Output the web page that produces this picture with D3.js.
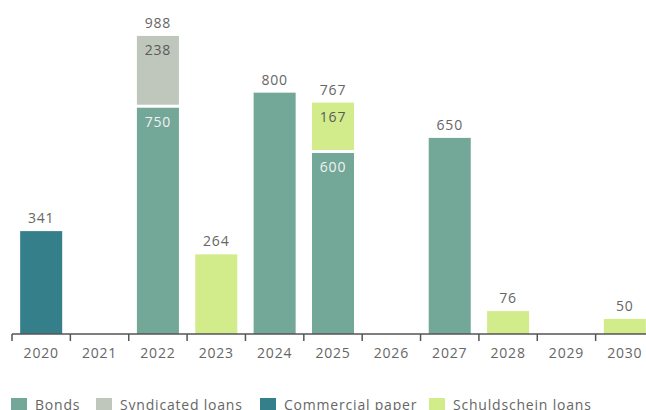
<!DOCTYPE html>
<html><head><meta charset="utf-8">
<script src="https://cdn.jsdelivr.net/npm/d3@7"></script>
<style>
html,body{margin:0;padding:0;background:#fff;overflow:hidden}
text{font-family:"Open Sans",sans-serif;}
</style></head>
<body><svg id="c" width="646" height="410"></svg>
<script>
const years = ["2020","2021","2022","2023","2024","2025","2026","2027","2028","2029","2030"];
const seriesNames = ["Bonds","Syndicated loans","Commercial paper","Schuldschein loans"];
const seriesColors = ["#73a797","#bfc6bc","#347f8a","#d2ec8c"];
const bonds       = [0,0,750,0,800,600,0,650,0,0,0];
const syndicated  = [0,0,238,0,0,0,0,0,0,0,0];
const commercial  = [341,0,0,0,0,0,0,0,0,0,0];
const schuldschein= [0,0,0,264,0,167,0,0,76,0,50];
const innerLabelColors = ["#f2f2f2","#5a5a5a","#f2f2f2","#5a5a5a"];

const seriesValues = [bonds, syndicated, commercial, schuldschein];
const svg = d3.select("#c");
const x = d3.scaleBand().domain(years).range([12, 654]).paddingInner(0.28).paddingOuter(0.14);
const y = d3.scaleLinear().domain([0, 1000]).range([334, 32.3]);
const textCol = "#666";

const rows = years.map((yr, i) => {
  const o = {year: yr};
  seriesNames.forEach((s, k) => o[s] = seriesValues[k][i]);
  return o;
});
const stack = d3.stack().keys(seriesNames)(rows);

const gap = 3;
years.forEach((yr, i) => {
  const segs = [];
  stack.forEach((layer, k) => {
    const d = layer[i];
    if (d[1] - d[0] > 0) segs.push({k, y0: d[0], y1: d[1], v: d[1]-d[0]});
  });
  segs.forEach((s, j) => {
    const top = y(s.y1);
    let bottom = y(s.y0);
    if (j > 0) bottom -= gap;
    svg.append("rect").attr("x", x(yr)).attr("width", x.bandwidth())
      .attr("y", top).attr("height", bottom - top).attr("fill", seriesColors[s.k]);
    if (segs.length > 1) {
      svg.append("text").attr("x", x(yr) + x.bandwidth()/2).attr("y", top + 19)
        .attr("text-anchor", "middle").attr("font-size", 14).attr("letter-spacing", 0.8)
        .attr("fill", innerLabelColors[s.k]).text(s.v);
    }
  });
  if (segs.length) {
    const total = d3.sum(segs, s => s.v);
    svg.append("text").attr("x", x(yr) + x.bandwidth()/2).attr("y", y(total) - 8)
      .attr("text-anchor", "middle").attr("font-size", 14).attr("letter-spacing", 0.8)
      .attr("fill", textCol).text(total);
  }
});

// axis
const ax = svg.append("g").attr("transform", "translate(0,334)")
  .call(d3.axisBottom(x).tickSize(0).tickPadding(14));
ax.select(".domain").remove();
ax.selectAll("text").attr("font-size", 14).attr("letter-spacing", 0.8).attr("fill", textCol)
  .attr("font-family", "Open Sans, sans-serif");
const off = (x.step() - x.bandwidth())/2;
svg.append("line").attr("x1", 12).attr("x2", 646).attr("y1", 334).attr("y2", 334)
  .attr("stroke", "#555").attr("stroke-width", 1.5);
svg.selectAll(".tk").data(years).enter().append("line")
  .attr("x1", d => x(d) - off).attr("x2", d => x(d) - off)
  .attr("y1", 334).attr("y2", 341).attr("stroke", "#555").attr("stroke-width", 1.5);

// legend
const legX = [11, 96, 260, 429];
seriesNames.forEach((s, k) => {
  svg.append("rect").attr("x", legX[k]).attr("y", 398).attr("width", 16).attr("height", 16)
    .attr("fill", seriesColors[k]);
  svg.append("text").attr("x", legX[k] + 24).attr("y", 410).attr("font-size", 14)
    .attr("letter-spacing", 0.8).attr("fill", textCol).text(s);
});
</script></body></html>
